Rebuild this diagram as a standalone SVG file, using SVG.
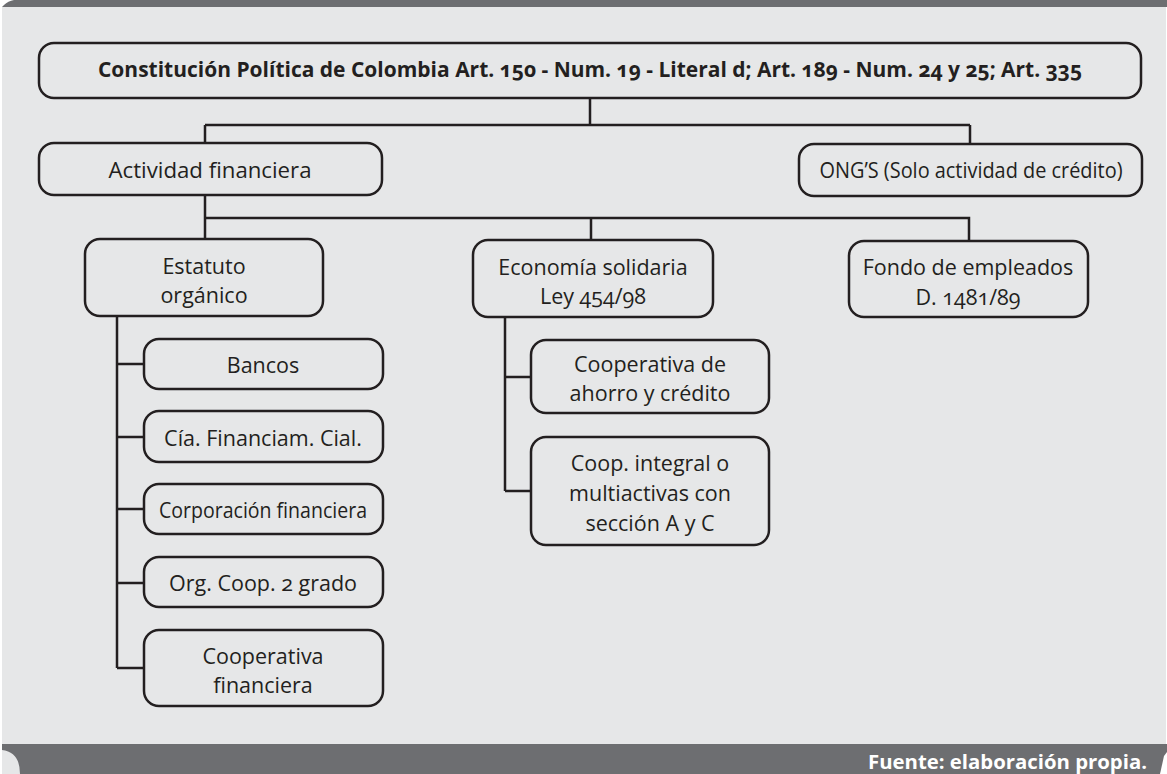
<svg xmlns="http://www.w3.org/2000/svg" width="1167" height="774" viewBox="0 0 1167 774">
<style>
.box{fill:#e6e7e8;stroke:#231f20;stroke-width:2.5}
.t{font-family:"Open Sans","Noto Sans","Liberation Sans",sans-serif;font-size:21.5px;fill:#231f20;text-anchor:middle;font-variant-numeric:oldstyle-nums}
.b{font-weight:bold}
.ln{stroke:#231f20;stroke-width:2.5;fill:none}
</style>
<rect x="0" y="0" width="1167" height="774" fill="#ffffff"/>
<rect x="2" y="0" width="1164" height="774" fill="#e6e7e8"/>
<path d="M0 0 H1167 V7 H2 Z" fill="#6d6e71"/>
<path d="M0 0 H14 Q8 1 4 5 L2 7 H0 Z" fill="#ffffff"/>
<path d="M2 744 H1167 V774 H20 Q20 752 2 750 Z" fill="#6d6e71"/>
<path d="M1160 774 L1164 756 L1167 752 V774 Z" fill="#ffffff"/>
<text x="1147" y="769" font-family="'Open Sans','Noto Sans','Liberation Sans',sans-serif" font-weight="bold" font-size="19" fill="#ffffff" text-anchor="end" textLength="279" lengthAdjust="spacingAndGlyphs">Fuente: elaboración propia.</text>

<g id="connectors">
<path class="ln" d="M590 98 V125 M205 125 H970 M205 125 V143 M970 125 V144"/>
<path class="ln" d="M205 195 V239 M205 218 H969 V241 M591 218 V240"/>
<path class="ln" d="M117 316 V668 M117 364 H144 M117 437 H144 M117 509 H144 M117 583 H144 M117 668 H144"/>
<path class="ln" d="M505 317 V491 M505 377 H531 M505 491 H531"/>
</g>

<g id="n-constitucion">
<rect class="box" x="39" y="43" width="1102" height="55" rx="15"/>
<text class="t b" x="590" y="77" font-size="18" textLength="984" lengthAdjust="spacingAndGlyphs">Constitución Política de Colombia Art. 150 - Num. 19 - Literal d; Art. 189 - Num. 24 y 25; Art. 335</text>
</g>
<g id="n-actividad">
<rect class="box" x="39" y="143" width="343" height="52" rx="15"/>
<text class="t" x="210" y="178" textLength="203" lengthAdjust="spacingAndGlyphs">Actividad financiera</text>
</g>
<g id="n-ong">
<rect class="box" x="799" y="144" width="343" height="52" rx="15"/>
<text class="t" x="971" y="178" textLength="303" lengthAdjust="spacingAndGlyphs">ONG’S (Solo actividad de crédito)</text>
</g>
<g id="n-estatuto">
<rect class="box" x="85" y="239" width="238" height="77" rx="15"/>
<text class="t" x="204" y="274">Estatuto</text>
<text class="t" x="204" y="303">orgánico</text>
</g>
<g id="n-economia">
<rect class="box" x="473" y="240" width="240" height="77" rx="15"/>
<text class="t" x="593" y="275">Economía solidaria</text>
<text class="t" x="593" y="304">Ley 454/98</text>
</g>
<g id="n-fondo">
<rect class="box" x="849" y="241" width="239" height="76" rx="15"/>
<text class="t" x="968" y="275">Fondo de empleados</text>
<text class="t" x="968" y="305">D. 1481/89</text>
</g>
<g id="n-bancos">
<rect class="box" x="144" y="339" width="239" height="50" rx="15"/>
<text class="t" x="263" y="373">Bancos</text>
</g>
<g id="n-cia">
<rect class="box" x="144" y="411" width="239" height="51" rx="15"/>
<text class="t" x="263" y="446">Cía. Financiam. Cial.</text>
</g>
<g id="n-corporacion">
<rect class="box" x="144" y="484" width="239" height="50" rx="15"/>
<text class="t" x="263" y="518" textLength="208" lengthAdjust="spacingAndGlyphs">Corporación financiera</text>
</g>
<g id="n-org">
<rect class="box" x="144" y="557" width="239" height="50" rx="15"/>
<text class="t" x="263" y="591">Org. Coop. 2 grado</text>
</g>
<g id="n-coopfin">
<rect class="box" x="144" y="630" width="239" height="76" rx="15"/>
<text class="t" x="263" y="664">Cooperativa</text>
<text class="t" x="263" y="693">financiera</text>
</g>
<g id="n-ahorro">
<rect class="box" x="531" y="340" width="238" height="73" rx="15"/>
<text class="t" x="650" y="372">Cooperativa de</text>
<text class="t" x="650" y="401">ahorro y crédito</text>
</g>
<g id="n-integral">
<rect class="box" x="531" y="437" width="238" height="108" rx="15"/>
<text class="t" x="650" y="471">Coop. integral o</text>
<text class="t" x="650" y="501">multiactivas con</text>
<text class="t" x="650" y="531">sección A y C</text>
</g>
</svg>
